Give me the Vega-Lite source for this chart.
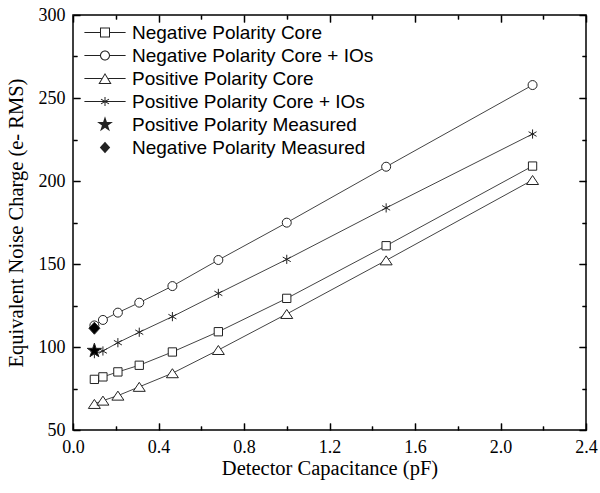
{
  "$schema": "https://vega.github.io/schema/vega-lite/v6.json",
  "width": 513,
  "height": 415,
  "autosize": {"type": "none"},
  "padding": {"left": 73, "top": 15, "right": 14, "bottom": 63},
  "background": "white",
  "config": {
    "view": {"stroke": "black", "strokeWidth": 1.5},
    "axis": {"grid": false, "domain": false, "tickColor": "#222222"}
  },
  "data": {
    "values": [
      {"series": "Negative Polarity Core", "C": 0.1, "ENC": 80.5},
      {"series": "Negative Polarity Core", "C": 0.14, "ENC": 82},
      {"series": "Negative Polarity Core", "C": 0.21, "ENC": 85},
      {"series": "Negative Polarity Core", "C": 0.31, "ENC": 89},
      {"series": "Negative Polarity Core", "C": 0.465, "ENC": 97},
      {"series": "Negative Polarity Core", "C": 0.68, "ENC": 109.2},
      {"series": "Negative Polarity Core", "C": 1.0, "ENC": 129.3},
      {"series": "Negative Polarity Core", "C": 1.465, "ENC": 161},
      {"series": "Negative Polarity Core", "C": 2.15, "ENC": 209},
      {"series": "Negative Polarity Core + IOs", "C": 0.1, "ENC": 113},
      {"series": "Negative Polarity Core + IOs", "C": 0.14, "ENC": 116.3},
      {"series": "Negative Polarity Core + IOs", "C": 0.21, "ENC": 120.7},
      {"series": "Negative Polarity Core + IOs", "C": 0.31, "ENC": 126.7},
      {"series": "Negative Polarity Core + IOs", "C": 0.465, "ENC": 136.7},
      {"series": "Negative Polarity Core + IOs", "C": 0.68, "ENC": 152.4},
      {"series": "Negative Polarity Core + IOs", "C": 1.0, "ENC": 174.9},
      {"series": "Negative Polarity Core + IOs", "C": 1.465, "ENC": 208.6},
      {"series": "Negative Polarity Core + IOs", "C": 2.15, "ENC": 257.8},
      {"series": "Positive Polarity Core", "C": 0.1, "ENC": 65.7},
      {"series": "Positive Polarity Core", "C": 0.14, "ENC": 67.7},
      {"series": "Positive Polarity Core", "C": 0.21, "ENC": 70.7},
      {"series": "Positive Polarity Core", "C": 0.31, "ENC": 76},
      {"series": "Positive Polarity Core", "C": 0.465, "ENC": 84.2},
      {"series": "Positive Polarity Core", "C": 0.68, "ENC": 98.2},
      {"series": "Positive Polarity Core", "C": 1.0, "ENC": 119.9},
      {"series": "Positive Polarity Core", "C": 1.465, "ENC": 152.2},
      {"series": "Positive Polarity Core", "C": 2.15, "ENC": 200.6},
      {"series": "Positive Polarity Core + IOs", "C": 0.1, "ENC": 96},
      {"series": "Positive Polarity Core + IOs", "C": 0.14, "ENC": 97.6},
      {"series": "Positive Polarity Core + IOs", "C": 0.21, "ENC": 102.6},
      {"series": "Positive Polarity Core + IOs", "C": 0.31, "ENC": 108.9},
      {"series": "Positive Polarity Core + IOs", "C": 0.465, "ENC": 118.3},
      {"series": "Positive Polarity Core + IOs", "C": 0.68, "ENC": 132.3},
      {"series": "Positive Polarity Core + IOs", "C": 1.0, "ENC": 152.8},
      {"series": "Positive Polarity Core + IOs", "C": 1.465, "ENC": 183.8},
      {"series": "Positive Polarity Core + IOs", "C": 2.15, "ENC": 228.3},
      {"series": "Positive Polarity Measured", "C": 0.1, "ENC": 97.8},
      {"series": "Negative Polarity Measured", "C": 0.1, "ENC": 111.3}
    ]
  },
  "layer": [
    {
      "transform": [{"filter": "indexof(datum.series, 'Measured') < 0"}],
      "mark": {"type": "line", "stroke": "#444444", "strokeWidth": 1},
      "encoding": {
        "x": {"field": "C", "type": "quantitative", "scale": {"domain": [0, 2.4], "nice": false, "zero": false},
          "axis": {"orient": "bottom", "values": [0, 0.4, 0.8, 1.2, 1.6, 2.0, 2.4], "format": ".1f", "ticks": false,
            "labelPadding": 8,
            "labelFont": "Liberation Serif", "labelFontSize": 18, "labelColor": "black", "labelFlush": false, "labelOverlap": false,
            "title": "Detector Capacitance (pF)", "titleFont": "Liberation Serif", "titleFontSize": 20.5, "titleFontWeight": "normal", "titleColor": "black", "titlePadding": 2}},
        "y": {"field": "ENC", "type": "quantitative", "scale": {"domain": [50, 300], "nice": false, "zero": false},
          "axis": {"orient": "left", "values": [50, 100, 150, 200, 250, 300], "ticks": false,
            "labelPadding": 8,
            "labelFont": "Liberation Serif", "labelFontSize": 18, "labelColor": "black", "labelFlush": false, "labelOverlap": false,
            "title": "Equivalent Noise Charge (e- RMS)", "titleFont": "Liberation Serif", "titleFontSize": 20.5, "titleFontWeight": "normal", "titleColor": "black", "titlePadding": 12}},
        "detail": {"field": "series", "type": "nominal"}
      }
    },
    {
      "mark": {"type": "point", "filled": true, "stroke": "#222222", "strokeWidth": 1, "opacity": 1, "size": 100},
      "encoding": {
        "x": {"field": "C", "type": "quantitative",
          "axis": {"orient": "top", "offset": -415, "values": [0, 0.4, 0.8, 1.2, 1.6, 2.0, 2.4], "labels": false, "ticks": true, "tickSize": 7, "title": null, "zindex": 1}},
        "y": {"field": "ENC", "type": "quantitative",
          "axis": {"orient": "right", "offset": -513, "values": [50, 100, 150, 200, 250, 300], "labels": false, "ticks": true, "tickSize": 7, "title": null, "zindex": 1}},
        "shape": {"field": "series", "type": "nominal", "legend": null,
          "scale": {"domain": ["Negative Polarity Core", "Negative Polarity Core + IOs", "Positive Polarity Core", "Positive Polarity Core + IOs", "Positive Polarity Measured", "Negative Polarity Measured"],
            "range": [
              "M-0.83,-0.83H0.83V0.83H-0.83Z",
              "M0.9,0A0.9,0.9,0,1,1,-0.9,0A0.9,0.9,0,1,1,0.9,0Z",
              "M0,-0.9L1.2,0.9L-1.2,0.9Z",
              "M0,-0.92V0.92M-0.8,-0.46L0.8,0.46M-0.8,0.46L0.8,-0.46",
              "M0,-1.5L0.3375,-0.4635L1.4265,-0.4635L0.5445,0.177L0.882,1.2135L0,0.573L-0.882,1.2135L-0.5445,0.177L-1.4265,-0.4635L-0.3375,-0.4635Z",
              "M0,-1.2L1.1,0L0,1.2L-1.1,0Z"
            ]}},
        "fill": {"field": "series", "type": "nominal", "legend": null,
          "scale": {"domain": ["Negative Polarity Core", "Negative Polarity Core + IOs", "Positive Polarity Core", "Positive Polarity Core + IOs", "Positive Polarity Measured", "Negative Polarity Measured"],
            "range": ["white", "white", "white", "white", "black", "black"]}}
      }
    },
    {
      "mark": {"type": "point", "filled": true, "color": "#222222", "opacity": 0},
      "encoding": {
        "x": {"field": "C", "type": "quantitative",
          "axis": {"orient": "top", "offset": -415, "values": [0.2, 0.6, 1.0, 1.4, 1.8, 2.2], "labels": false, "ticks": true, "tickSize": 4, "title": null, "zindex": 1}},
        "y": {"field": "ENC", "type": "quantitative",
          "axis": {"orient": "right", "offset": -513, "values": [75, 125, 175, 225, 275], "labels": false, "ticks": true, "tickSize": 4, "title": null, "zindex": 1}},
        "shape": {"field": "series", "type": "nominal",
          "scale": {"domain": ["Negative Polarity Core", "Negative Polarity Core + IOs", "Positive Polarity Core", "Positive Polarity Core + IOs", "Positive Polarity Measured", "Negative Polarity Measured"],
            "range": [
              "M-5.15,-0.125H-1.25V0.125H-5.15ZM1.25,-0.125H5.15V0.125H1.25ZM-1.25,-1.25H1.25V1.25H-1.25ZM-1,-1V1H1V-1Z",
              "M-5.15,-0.125H-1.25V0.125H-5.15ZM1.25,-0.125H5.15V0.125H1.25ZM1.25,0A1.25,1.25,0,1,1,-1.25,0A1.25,1.25,0,1,1,1.25,0ZM1,0A1,1,0,1,0,-1,0A1,1,0,1,0,1,0Z",
              "M-5.15,-0.125H-0.84V0.125H-5.15ZM0.84,-0.125H5.15V0.125H0.84ZM0,-1.4L1.65,1.35L-1.65,1.35ZM0,-0.913L-1.208,1.1L1.208,1.1Z",
              "M-5.15,-0.125H5.15V0.125H-5.15ZM-0.125,-1.15H0.125V1.15H-0.125ZM-1.0625,-0.472L-0.9375,-0.688L1.0625,0.472L0.9375,0.688ZM-0.9375,0.688L-1.0625,0.472L0.9375,-0.688L1.0625,-0.472Z",
              "M0,-2.08L0.468,-0.643L1.978,-0.643L0.755,0.245L1.223,1.683L0,0.795L-1.223,1.683L-0.755,0.245L-1.978,-0.643L-0.468,-0.643Z",
              "M0,-1.46L1.3,0L0,1.46L-1.3,0Z"
            ]},
          "legend": {"orient": "none", "legendX": 22.5, "legendY": 8, "direction": "vertical", "title": null, "padding": 0,
            "labelFont": "Liberation Sans", "labelFontSize": 19, "labelColor": "black", "labelOffset": 17.5, "rowPadding": 3,
            "symbolSize": 64, "symbolStrokeWidth": 0, "symbolOpacity": 1, "labelLimit": 400}}
      }
    },
    {
      "mark": {"type": "point", "opacity": 0},
      "encoding": {
        "x": {"field": "C", "type": "quantitative",
          "axis": {"orient": "bottom", "offset": -415, "values": [0, 0.4, 0.8, 1.2, 1.6, 2.0, 2.4], "labels": false, "ticks": true, "tickSize": 7, "title": null, "zindex": 1}},
        "y": {"field": "ENC", "type": "quantitative",
          "axis": {"orient": "left", "offset": -513, "values": [50, 100, 150, 200, 250, 300], "labels": false, "ticks": true, "tickSize": 7, "title": null, "zindex": 1}}
      }
    },
    {
      "mark": {"type": "point", "opacity": 0},
      "encoding": {
        "x": {"field": "C", "type": "quantitative",
          "axis": {"orient": "bottom", "offset": -415, "values": [0.2, 0.6, 1.0, 1.4, 1.8, 2.2], "labels": false, "ticks": true, "tickSize": 4, "title": null, "zindex": 1}},
        "y": {"field": "ENC", "type": "quantitative",
          "axis": {"orient": "left", "offset": -513, "values": [75, 125, 175, 225, 275], "labels": false, "ticks": true, "tickSize": 4, "title": null, "zindex": 1}}
      }
    },
    {
      "mark": {"type": "point", "opacity": 0},
      "encoding": {
        "x": {"field": "C", "type": "quantitative",
          "axis": {"orient": "bottom", "values": [0, 0.4, 0.8, 1.2, 1.6, 2.0, 2.4], "labels": false, "ticks": true, "tickColor": "#000000", "tickWidth": 1.5, "tickSize": -7, "title": null, "zindex": 1}},
        "y": {"field": "ENC", "type": "quantitative",
          "axis": {"orient": "left", "values": [50, 100, 150, 200, 250, 300], "labels": false, "ticks": true, "tickColor": "#000000", "tickWidth": 1.5, "tickSize": -7, "title": null, "zindex": 1}}
      }
    },
    {
      "mark": {"type": "point", "opacity": 0},
      "encoding": {
        "x": {"field": "C", "type": "quantitative",
          "axis": {"orient": "bottom", "values": [0.2, 0.6, 1.0, 1.4, 1.8, 2.2], "labels": false, "ticks": true, "tickColor": "#000000", "tickWidth": 1.5, "tickSize": -4, "title": null, "zindex": 1}},
        "y": {"field": "ENC", "type": "quantitative",
          "axis": {"orient": "left", "values": [75, 125, 175, 225, 275], "labels": false, "ticks": true, "tickColor": "#000000", "tickWidth": 1.5, "tickSize": -4, "title": null, "zindex": 1}}
      }
    },
    {
      "mark": {"type": "point", "opacity": 0},
      "encoding": {
        "x": {"field": "C", "type": "quantitative",
          "axis": {"orient": "top", "values": [0, 0.4, 0.8, 1.2, 1.6, 2.0, 2.4], "labels": false, "ticks": true, "tickColor": "#000000", "tickWidth": 1.5, "tickSize": -7, "title": null, "zindex": 1}},
        "y": {"field": "ENC", "type": "quantitative",
          "axis": {"orient": "right", "values": [50, 100, 150, 200, 250, 300], "labels": false, "ticks": true, "tickColor": "#000000", "tickWidth": 1.5, "tickSize": -7, "title": null, "zindex": 1}}
      }
    },
    {
      "mark": {"type": "point", "opacity": 0},
      "encoding": {
        "x": {"field": "C", "type": "quantitative",
          "axis": {"orient": "top", "values": [0.2, 0.6, 1.0, 1.4, 1.8, 2.2], "labels": false, "ticks": true, "tickColor": "#000000", "tickWidth": 1.5, "tickSize": -4, "title": null, "zindex": 1}},
        "y": {"field": "ENC", "type": "quantitative",
          "axis": {"orient": "right", "values": [75, 125, 175, 225, 275], "labels": false, "ticks": true, "tickColor": "#000000", "tickWidth": 1.5, "tickSize": -4, "title": null, "zindex": 1}}
      }
    }
  ],
  "resolve": {
    "axis": {"x": "independent", "y": "independent"},
    "scale": {"shape": "independent", "fill": "independent"}
  }
}
